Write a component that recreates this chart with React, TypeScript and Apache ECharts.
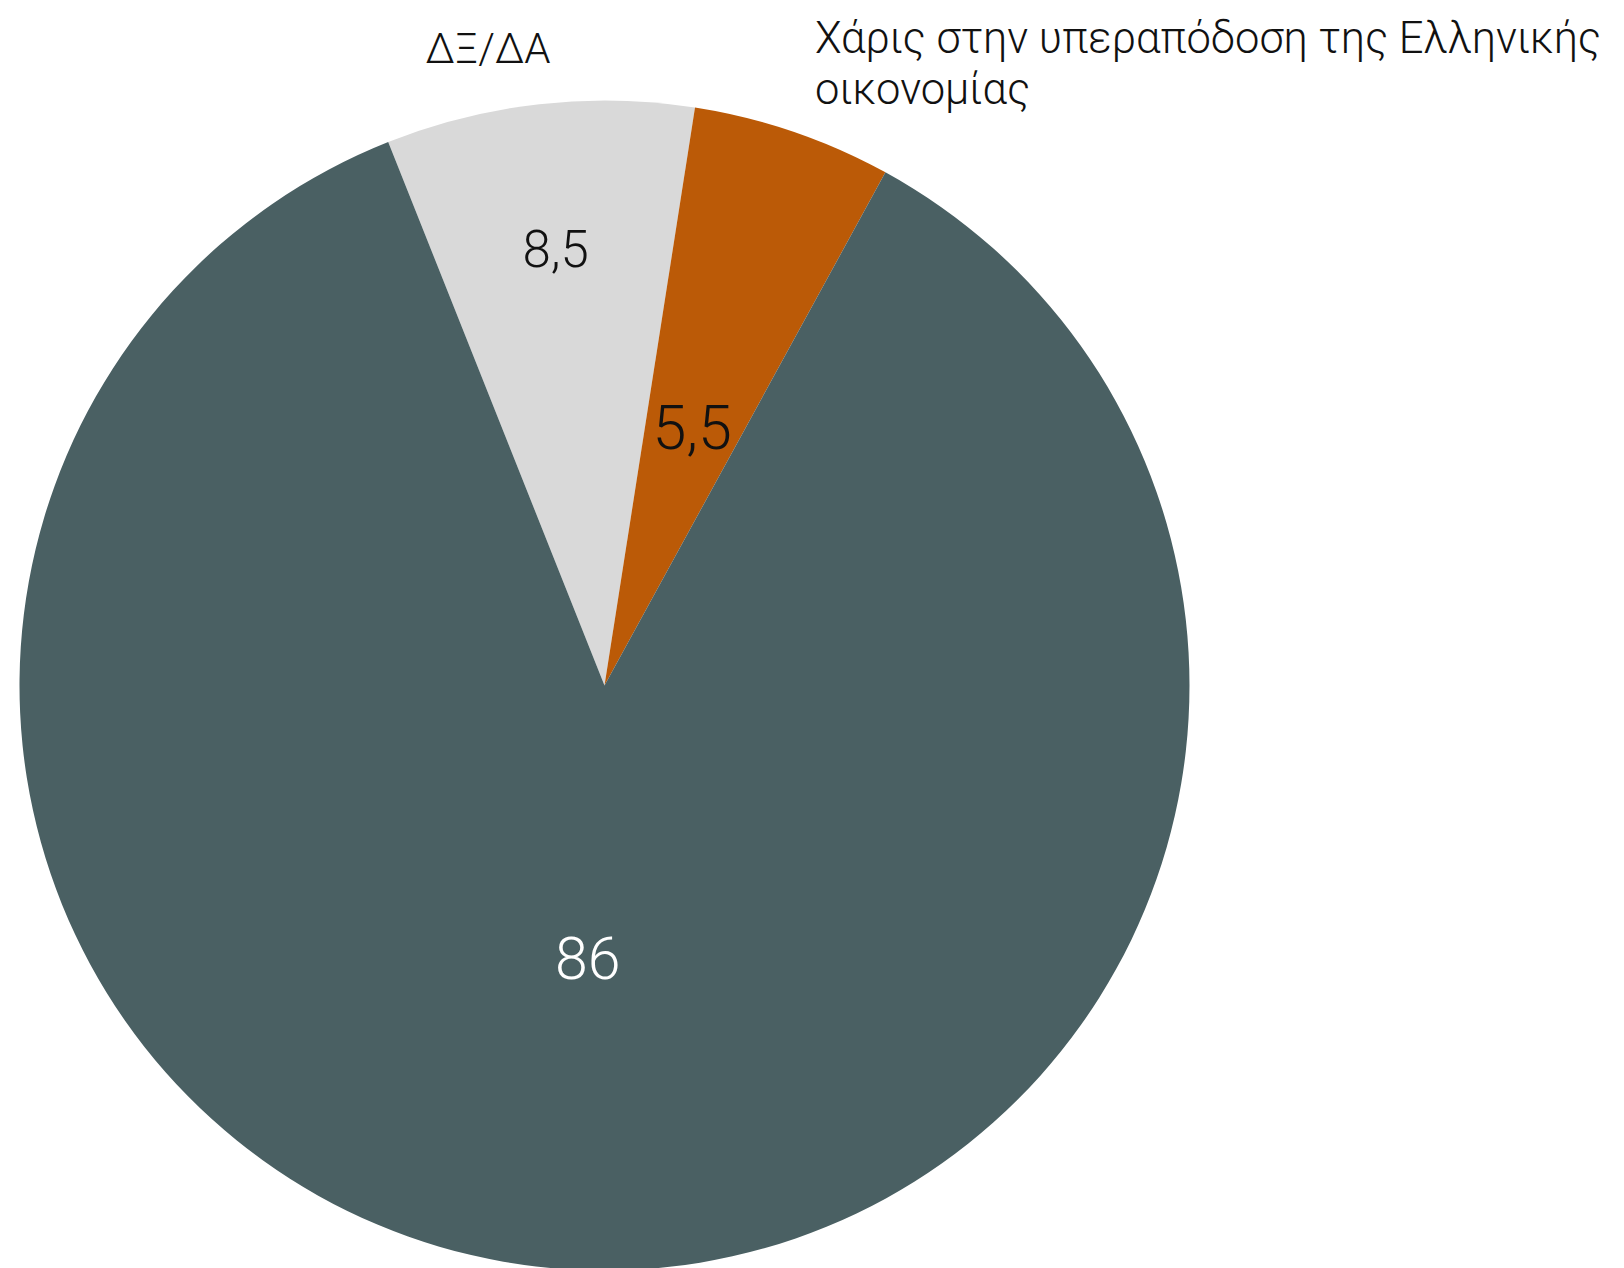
import React, { useEffect, useRef } from "react";
import * as echarts from "echarts";

const categories = [
  "ΔΞ/ΔΑ",
  "Χάρις στην υπεραπόδοση της Ελληνικής οικονομίας",
  "Λοιπά",
];
const values = [8.5, 5.5, 86];
const colors = ["#d9d9d9", "#bb5a07", "#4a6063"];
const valueLabelColors = ["#111111", "#111111", "#ffffff"];
const valueLabelSizes = [51, 61, 59];
const valueLabelRadius = [0.75, 0.465, 0.467];

const FONT = "Roboto, 'Liberation Sans', sans-serif";

export default function App() {
  const ref = useRef<HTMLDivElement>(null);

  useEffect(() => {
    if (!ref.current) return;
    document.body.style.margin = "0";
    const chart = echarts.init(ref.current, null, { renderer: "svg" });

    const cx = 604.5;
    const cy = 685.5;
    const R = 585;
    const startAngleDeg = 111.7; // echarts convention (ccw from 3 o'clock)
    const total = values.reduce((a, b) => a + b, 0);

    const midAngles: number[] = [];
    let acc = 0;
    values.forEach((v) => {
      const mid = acc + v / 2;
      const angDeg = startAngleDeg - (mid / total) * 360;
      midAngles.push((angDeg * Math.PI) / 180);
      acc += v;
    });

    const fmt = (v: number) => String(v).replace(".", ",");

    chart.setOption({
      animation: false,
      backgroundColor: "#ffffff",
      series: [
        {
          type: "pie",
          center: [cx, cy],
          radius: [0, R],
          startAngle: startAngleDeg,
          clockwise: true,
          silent: true,
          itemStyle: { borderWidth: 0 },
          label: {
            show: true,
            position: "inside",
            fontFamily: FONT,
            fontWeight: 300,
            formatter: (p: any) => fmt(p.value),
          },
          labelLine: { show: false },
          labelLayout: (p: any) => {
            const i = p.dataIndex;
            const a = midAngles[i];
            const r = R * valueLabelRadius[i];
            return {
              x: cx + r * Math.cos(a),
              y: cy - r * Math.sin(a),
              align: "center",
              verticalAlign: "middle",
            };
          },
          data: values.map((v, i) => ({
            value: v,
            name: categories[i],
            itemStyle: { color: colors[i] },
            label: {
              color: valueLabelColors[i],
              fontSize: valueLabelSizes[i],
            },
          })),
        },
      ],
      graphic: [
        {
          type: "text",
          x: 488,
          y: 48,
          style: {
            text: categories[0],
            fontFamily: FONT,
            fontWeight: 300,
            fontSize: 42,
            fill: "#111111",
            textAlign: "center",
            textVerticalAlign: "middle",
          },
        },
        {
          type: "text",
          x: 815,
          y: 13,
          style: {
            text: "Χάρις στην υπεραπόδοση της Ελληνικής\nοικονομίας",
            fontFamily: FONT,
            fontWeight: 300,
            fontSize: 43.5,
            lineHeight: 51,
            fill: "#111111",
            textAlign: "left",
            textVerticalAlign: "top",
          },
        },
      ],
    });

    return () => chart.dispose();
  }, []);

  return (
    <div
      ref={ref}
      style={{ position: "fixed", left: 0, top: 0, width: 1624, height: 1268 }}
    />
  );
}
